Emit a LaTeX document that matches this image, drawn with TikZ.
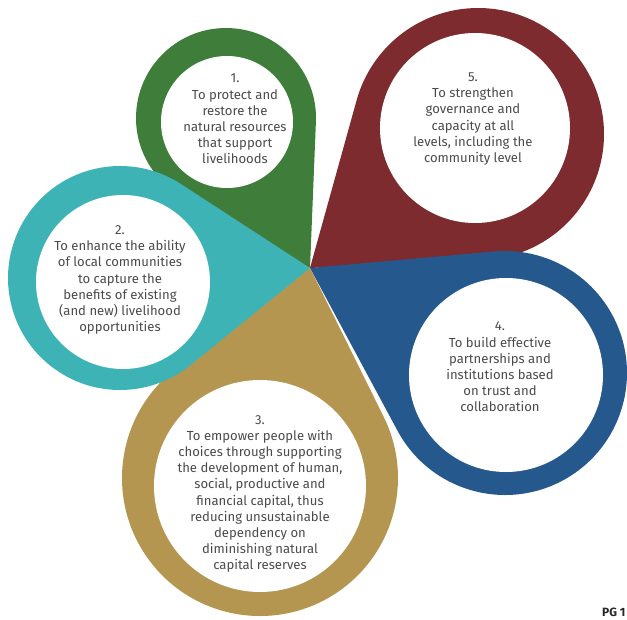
\documentclass[tikz,border=0pt]{standalone}
\usepackage{fontspec}
\setmainfont{Fira Sans}
\usetikzlibrary{calc}

\definecolor{verde}{RGB}{63,125,58}
\definecolor{granate}{RGB}{126,43,47}
\definecolor{turquesa}{RGB}{62,179,181}
\definecolor{dorado}{RGB}{180,150,80}
\definecolor{azul}{RGB}{37,88,140}
\definecolor{texto}{RGB}{75,75,75}

\begin{document}
\begin{tikzpicture}[x=1pt, y=-1pt,
  meta/.style={align=center, text=texto, font=\fontsize{13.1}{16.2}\selectfont}]
  \useasboundingbox (0,0) rectangle (627,619);
  % punta comun de las gotas
  \coordinate (tip) at (310,268);
  % centros exteriores e interiores
  \coordinate (o1) at (226,118);  \coordinate (i1) at (227,122);
  \coordinate (o2) at (120,278);  \coordinate (i2) at (123,282);
  \coordinate (o3) at (260,478);  \coordinate (i3) at (260,486);
  \coordinate (o4) at (505,373);  \coordinate (i4) at (506,375);
  \coordinate (o5) at (478,134);  \coordinate (i5) at (475,128);
  % gotas (tangentes desde la punta + arco exterior) y hueco blanco
  \foreach \k/\col/\R/\r in {5/granate/126/95, 4/azul/122/97, 1/verde/90/66,
                             3/dorado/138/106, 2/turquesa/112/87}
  {
    \fill[\col] let \p1=($(o\k)-(tip)$), \n1={veclen(\x1,\y1)},
                    \n2={atan2(\y1,\x1)}, \n3={asin(\R/\n1)} in
      (tip) -- ($(o\k)+(\n2+270-\n3:\R pt)$)
      arc[start angle=\n2+270-\n3, delta angle=180+2*\n3, radius=\R pt] -- cycle;
    \fill[white] (i\k) circle[radius=\r pt];
  }
  % objetivos
  \node[meta] (m1) at (235,119) {1.\\To protect and\\restore the\\natural resources\\that support\\livelihoods};
  \node[meta] (m2) at (120,280) {2.\\To enhance the ability\\of local communities\\to capture the\\benefits of existing\\(and new) livelihood\\opportunities};
  \node[meta] (m3) at (260,494) {3.\\To empower people with\\choices through supporting\\the development of human,\\social, productive and\\financial capital, thus\\reducing unsustainable\\dependency on\\diminishing natural\\capital reserves};
  \node[meta] (m4) at (500,367) {4.\\To build effective\\partnerships and\\institutions based\\on trust and\\collaboration};
  \node[meta] (m5) at (473,119) {5.\\To strengthen\\governance and\\capacity at all\\levels, including the\\community level};
  % numero de pagina (cortado en el borde)
  \node[anchor=west, inner sep=0pt, text=black!85, font=\bfseries\fontsize{12}{13}\selectfont] (pg) at (602,612) {PG 1};
\end{tikzpicture}
\end{document}
